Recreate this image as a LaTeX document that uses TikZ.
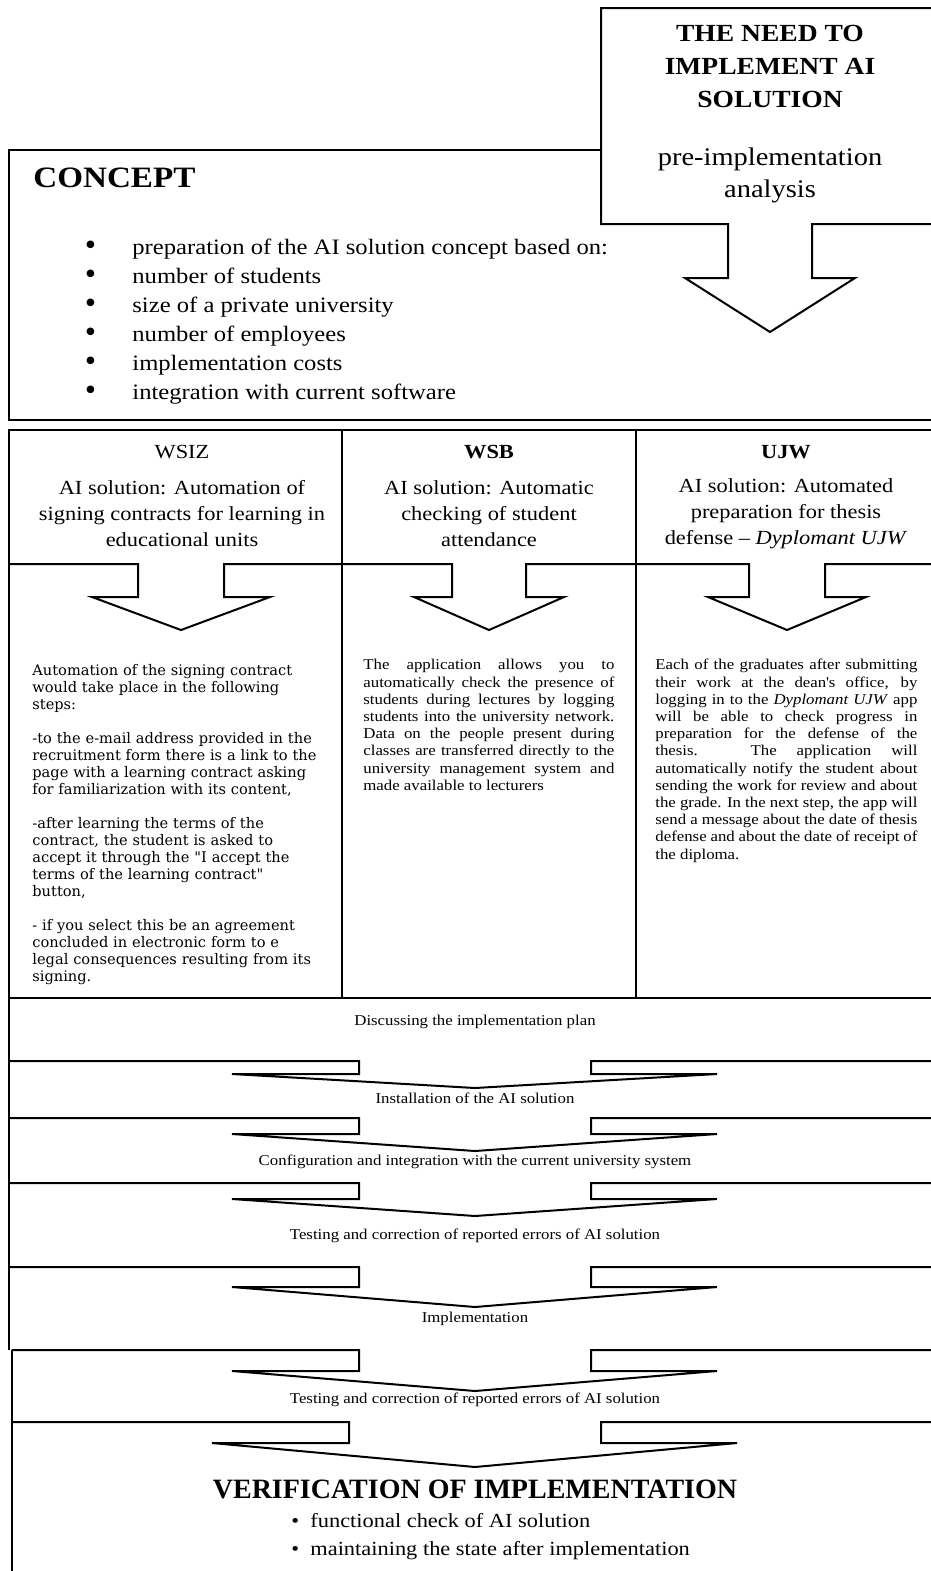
\documentclass[tikz,border=0pt]{standalone}
\usepackage{fontspec}
\setmainfont{Liberation Serif}[FakeStretch=1.12]
\newfontfamily\plainserif{Liberation Serif}
\newfontfamily\wideserif{DejaVu Serif}
\usetikzlibrary{positioning}

\newcommand{\conceptdot}{\makebox[24.75pt][l]{\wideserif\fontsize{13}{13}\selectfont\textbullet}}

\begin{document}
\begin{tikzpicture}[x=0.5pt,y=-0.5pt,
  frame/.style={line width=1pt},
  needtitle/.style={font=\bfseries\fontsize{12.3}{16.5}\selectfont,align=center},
  needsub/.style={font=\fontsize{12.7}{16}\selectfont,align=center},
  concepthead/.style={font=\bfseries\fontsize{14.8}{17}\selectfont,anchor=west,inner sep=0pt},
  conceptitem/.style={font=\fontsize{11}{13}\selectfont,anchor=base west,inner sep=0pt},
  unilabel/.style={font=\fontsize{10}{12}\selectfont},
  unihead/.style={font=\fontsize{10}{13}\selectfont,align=center},
  wsizbody/.style={font=\wideserif\fontsize{7.3}{8.5}\selectfont,align=left,
    text width=150pt,anchor=north west,inner sep=0pt},
  appbody/.style={font=\fontsize{7.5}{8.6}\selectfont,align=justify,
    anchor=north west,inner sep=0pt},
  stepname/.style={font=\fontsize{7.5}{9}\selectfont},
  verifhead/.style={font=\plainserif\bfseries\fontsize{14}{16}\selectfont},
  verifitem/.style={font=\rmfamily\fontsize{10}{12}\selectfont,anchor=west,inner sep=0pt}]
  \useasboundingbox (0,0) rectangle (931,1571);
  \clip (0,0) rectangle (931,1571);

  % concept box
  \draw[frame]
    (601,150)
    --
    (9,150)
    --
    (9,420)
    --
    (945,420);
  % need box with its arrow
  \draw[frame]
    (945,8) -- (601,8) -- (601,224) -- (728,224) -- (728,278)
    -- (685,278) -- (770,332) -- (855,278) -- (812,278) -- (812,224)
    -- (945,224);
  \node[needtitle] (need) at (770,66) {THE NEED TO\\IMPLEMENT AI\\SOLUTION};
  \node[needsub] (analysis) at (770,175) {pre-implementation\\analysis};

  \node[concepthead] (concept) at (33,178) {CONCEPT};
  \node[conceptitem] (basis) at (82.5,254)
    {\conceptdot preparation of the AI solution concept based on:};
  \node[conceptitem] (students) at (82.5,283)
    {\conceptdot number of students};
  \node[conceptitem] (size) at (82.5,312)
    {\conceptdot size of a private university};
  \node[conceptitem] (employees) at (82.5,341)
    {\conceptdot number of employees};
  \node[conceptitem] (costs) at (82.5,370)
    {\conceptdot implementation costs};
  \node[conceptitem] (software) at (82.5,399)
    {\conceptdot integration with current software};

  % three universities
  \draw[frame]
    (945,430)
    --
    (9,430)
    --
    (9,998)
    --
    (945,998);
  \draw[frame] (342,430) -- (342,998);
  \draw[frame] (636,430) -- (636,998);
  \draw[frame]
    (9,564) -- (138,564) -- (138,597) -- (92,597) -- (181,630)
    -- (270,597) -- (224,597) -- (224,564)
    -- (452,564) -- (452,597) -- (414,597) -- (489,630)
    -- (564,597) -- (526,597) -- (526,564)
    -- (749,564) -- (749,597) -- (708,597) -- (787,630)
    -- (866,597) -- (825,597) -- (825,564) -- (945,564);

  \node[unilabel] (wsiz) at (182,452) {WSIZ};
  \node[unilabel,font=\bfseries\fontsize{10}{12}\selectfont] (wsb) at (489,452) {WSB};
  \node[unilabel,font=\bfseries\fontsize{10}{12}\selectfont] (ujw) at (786,452) {UJW};
  \node[unihead] (wsizsol) at (182,514)
    {AI solution: Automation of\\signing contracts for learning in\\educational units};
  \node[unihead] (wsbsol) at (489,514)
    {AI solution: Automatic\\checking of student\\attendance};
  \node[unihead] (ujwsol) at (786,514)
    {AI solution: Automated\\preparation for thesis\\defense \textendash{} \textit{Dyplomant UJW}};

  \node[wsizbody] (wsiztext) at (32,664)
    {Automation of the signing contract\\
     would take place in the following\\
     steps:\\[8.5pt]
     -to the e-mail address provided in the\\
     recruitment form there is a link to the\\
     page with a learning contract asking\\
     for familiarization with its content,\\[8.5pt]
     -after learning the terms of the\\
     contract, the student is asked to\\
     accept it through the "I accept the\\
     terms of the learning contract"\\
     button,\\[8.5pt]
     - if you select this be an agreement\\
     concluded in electronic form to e\\
     legal consequences resulting from its\\
     signing.};
  \node[appbody,text width=125.5pt] (wsbtext) at (363,659)
    {The application allows you to\linebreak
     automatically check the presence of\linebreak
     students during lectures by logging\linebreak
     students into the university network.\linebreak
     Data on the people present during\linebreak
     classes are transferred directly to the\linebreak
     university management system and\linebreak
     made available to lecturers};
  \node[appbody,text width=131pt] (ujwtext) at (655,659)
    {Each of the graduates after submitting\linebreak
     their work at the dean\textquotesingle s office, by\linebreak
     logging in to the \textit{Dyplomant UJW} app\linebreak
     will be able to check progress in\linebreak
     preparation for the defense of the\linebreak
     thesis. The application will\linebreak
     automatically notify the student about\linebreak
     sending the work for review and about\linebreak
     the grade. In the next step, the app will\linebreak
     send a message about the date of thesis\linebreak
     defense and about the date of receipt of\linebreak
     the diploma.};

  % implementation steps
  \draw[frame] (9,998) -- (9,1350);
  \draw[frame] (11.5,1350) -- (11.5,1580);
  \foreach \top/\shaft/\tip in {1061/1074/1088,1118/1134/1151,1183/1199/1216,1267/1287/1307}
    \draw[frame]
      (9,\top) -- (359,\top) -- (359,\shaft) -- (232,\shaft) -- (475,\tip)
      -- (717,\shaft) -- (591,\shaft) -- (591,\top) -- (945,\top);
  \draw[frame]
    (11.5,1350) -- (359,1350) -- (359,1371) -- (232,1371) -- (475,1391)
    -- (717,1371) -- (591,1371) -- (591,1350) -- (945,1350);
  \draw[frame]
    (11.5,1422) -- (349,1422) -- (349,1443) -- (212,1443) -- (475,1467)
    -- (737,1443) -- (601,1443) -- (601,1422) -- (945,1422);

  \node[stepname] (plan) at (475,1022) {Discussing the implementation plan};
  \node[stepname] (install) at (475,1098) {Installation of the AI solution};
  \node[stepname] (config) at (475,1162) {Configuration and integration with the current university system};
  \node[stepname] (testing) at (475,1236) {Testing and correction of reported errors of AI solution};
  \node[stepname] (deploy) at (475,1319) {Implementation};
  \node[stepname] (retesting) at (475,1400) {Testing and correction of reported errors of AI solution};

  \node[verifhead] (verif) at (475,1489) {VERIFICATION OF IMPLEMENTATION};
  \node[verifitem] (check) at (291,1521)
    {\makebox[9.5pt][l]{\textbullet}functional check of AI solution};
  \node[verifitem] (keep) at (291,1551)
    {\makebox[9.5pt][l]{\textbullet}maintaining the state after implementation};
\end{tikzpicture}
\end{document}
